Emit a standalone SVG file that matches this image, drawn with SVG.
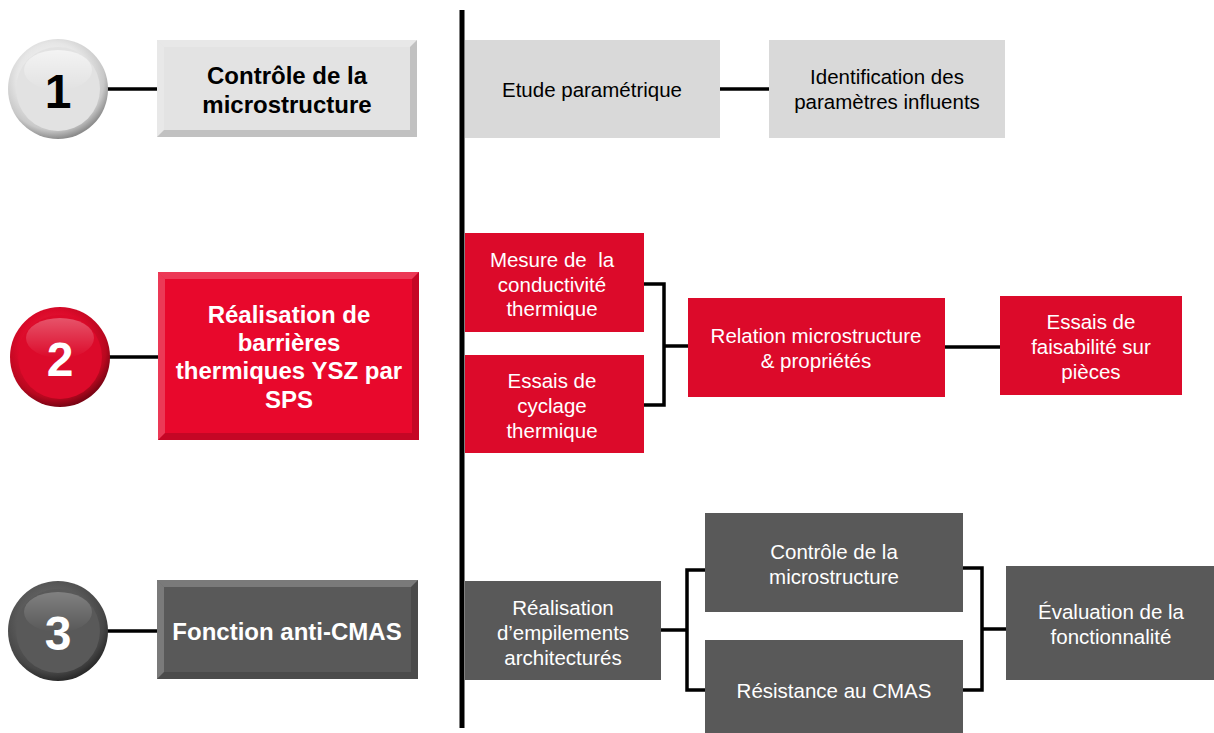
<svg xmlns="http://www.w3.org/2000/svg" width="1214" height="733" viewBox="0 0 1214 733">
<defs>
<radialGradient id="g1" cx="0.45" cy="0.4" r="0.6">
<stop offset="0" stop-color="#ffffff"/><stop offset="0.6" stop-color="#e6e6e6"/><stop offset="0.85" stop-color="#c8c8c8"/><stop offset="1" stop-color="#8c8c8c"/>
</radialGradient>
<radialGradient id="g2" cx="0.45" cy="0.4" r="0.6">
<stop offset="0" stop-color="#f0304a"/><stop offset="0.6" stop-color="#dc0a2a"/><stop offset="0.85" stop-color="#b8081f"/><stop offset="1" stop-color="#7a0414"/>
</radialGradient>
<radialGradient id="g3" cx="0.45" cy="0.4" r="0.6">
<stop offset="0" stop-color="#7a7a7a"/><stop offset="0.6" stop-color="#595959"/><stop offset="0.85" stop-color="#474747"/><stop offset="1" stop-color="#2a2a2a"/>
</radialGradient>
<linearGradient id="hl" x1="0" y1="0" x2="0" y2="1">
<stop offset="0" stop-color="#ffffff" stop-opacity="0.6"/><stop offset="1" stop-color="#ffffff" stop-opacity="0"/>
</linearGradient>
</defs>
<style>
.lbl{font-family:"Liberation Sans",Arial,sans-serif;font-size:20.5px;text-anchor:middle;dominant-baseline:central}
.big{font-family:"Liberation Sans",Arial,sans-serif;font-size:24px;font-weight:bold;text-anchor:middle;dominant-baseline:central}
.num{font-family:"Liberation Sans",Arial,sans-serif;font-size:48px;font-weight:bold;text-anchor:middle;dominant-baseline:central}
.w{fill:#ffffff}.k{fill:#000000}
.gray{fill:#d9d9d9}.red{fill:#dc0a2a}.dark{fill:#595959}
.conn{stroke:#000;stroke-width:3.5;fill:none}
.bevL{fill:#ffffff;fill-opacity:0.2}.bevD{fill:#000000;fill-opacity:0.15}
</style>

<g id="connectors">
<line x1="462" y1="10" x2="462" y2="728" stroke="#000" stroke-width="5"/>
<line class="conn" x1="106" y1="89" x2="157" y2="89"/>
<line class="conn" x1="108" y1="357" x2="158" y2="357"/>
<line class="conn" x1="106" y1="631" x2="157" y2="631"/>
<line class="conn" x1="720" y1="89" x2="769" y2="89"/>
<polyline class="conn" points="644,284 664,284 664,405 644,405"/>
<line class="conn" x1="664" y1="346" x2="688" y2="346"/>
<line class="conn" x1="945" y1="347" x2="1000" y2="347"/>
<line class="conn" x1="661" y1="630" x2="687" y2="630"/>
<polyline class="conn" points="705,570 687,570 687,690 705,690"/>
<polyline class="conn" points="963,568 982,568 982,690 963,690"/>
<line class="conn" x1="982" y1="629" x2="1006" y2="629"/>
</g>

<g id="c1">
<circle cx="58" cy="89" r="50" fill="url(#g1)"/>
<circle cx="58" cy="89" r="42" fill="#e2e2e2"/>
<ellipse cx="58" cy="70" rx="34" ry="20" fill="url(#hl)"/>
<text class="num k" x="58" y="91">1</text>
</g>
<g id="b1">
<rect x="157" y="40" width="260" height="97" fill="#e3e3e3"/>
<polygon class="bevL" points="157,40 417,40 410,47 164,47"/>
<polygon class="bevL" points="157,40 164,47 164,130 157,137"/>
<polygon class="bevD" points="157,137 417,137 410,130 164,130"/>
<polygon class="bevD" points="417,40 417,137 410,130 410,47"/>
<text class="big k" x="287" y="75">Contrôle de la</text>
<text class="big k" x="287" y="104">microstructure</text>
</g>

<g id="c2">
<circle cx="60" cy="357" r="50" fill="url(#g2)"/>
<circle cx="60" cy="357" r="42" fill="#dc0a2a"/>
<ellipse cx="60" cy="338" rx="34" ry="20" fill="url(#hl)" opacity="0.5"/>
<text class="num w" x="60" y="359">2</text>
</g>
<g id="b2">
<rect x="158" y="272" width="261" height="168" fill="#e8082c"/>
<polygon class="bevL" points="158,272 419,272 412,279 165,279"/>
<polygon class="bevL" points="158,272 165,279 165,433 158,440"/>
<polygon class="bevD" points="158,440 419,440 412,433 165,433"/>
<polygon class="bevD" points="419,272 419,440 412,433 412,279"/>
<text class="big w" x="289" y="314">Réalisation de</text>
<text class="big w" x="289" y="342">barrières</text>
<text class="big w" x="289" y="370">thermiques YSZ par</text>
<text class="big w" x="289" y="399">SPS</text>
</g>

<g id="c3">
<circle cx="58" cy="631" r="50" fill="url(#g3)"/>
<circle cx="58" cy="631" r="42" fill="#595959"/>
<ellipse cx="58" cy="612" rx="34" ry="20" fill="url(#hl)" opacity="0.4"/>
<text class="num w" x="58" y="633">3</text>
</g>
<g id="b3">
<rect x="157" y="580" width="261" height="99" fill="#595959"/>
<polygon class="bevL" points="157,580 418,580 411,587 164,587"/>
<polygon class="bevL" points="157,580 164,587 164,672 157,679"/>
<polygon class="bevD" points="157,679 418,679 411,672 164,672"/>
<polygon class="bevD" points="418,580 418,679 411,672 411,587"/>
<text class="big w" x="287" y="631">Fonction anti-CMAS</text>
</g>

<g id="n-etude">
<rect class="gray" x="465" y="40" width="255" height="98"/>
<text class="lbl k" x="592" y="89">Etude paramétrique</text>
</g>
<g id="n-ident">
<rect class="gray" x="769" y="40" width="236" height="98"/>
<text class="lbl k" x="887" y="76">Identification des</text>
<text class="lbl k" x="887" y="101">paramètres influents</text>
</g>

<g id="n-mesure">
<rect class="red" x="465" y="233" width="179" height="99"/>
<text class="lbl w" x="552" y="259" xml:space="preserve">Mesure de  la</text>
<text class="lbl w" x="552" y="284">conductivité</text>
<text class="lbl w" x="552" y="308">thermique</text>
</g>
<g id="n-cyclage">
<rect class="red" x="465" y="355" width="179" height="98"/>
<text class="lbl w" x="552" y="380">Essais de</text>
<text class="lbl w" x="552" y="405">cyclage</text>
<text class="lbl w" x="552" y="430">thermique</text>
</g>
<g id="n-relation">
<rect class="red" x="688" y="298" width="257" height="99"/>
<text class="lbl w" x="816" y="335">Relation microstructure</text>
<text class="lbl w" x="816" y="360">&amp; propriétés</text>
</g>
<g id="n-faisab">
<rect class="red" x="1000" y="296" width="182" height="99"/>
<text class="lbl w" x="1091" y="321">Essais de</text>
<text class="lbl w" x="1091" y="346">faisabilité sur</text>
<text class="lbl w" x="1091" y="371">pièces</text>
</g>

<g id="n-empil">
<rect class="dark" x="465" y="581" width="196" height="99"/>
<text class="lbl w" x="563" y="607">Réalisation</text>
<text class="lbl w" x="563" y="632">d’empilements</text>
<text class="lbl w" x="563" y="657">architecturés</text>
</g>
<g id="n-controle">
<rect class="dark" x="705" y="513" width="258" height="99"/>
<text class="lbl w" x="834" y="551">Contrôle de la</text>
<text class="lbl w" x="834" y="576">microstructure</text>
</g>
<g id="n-resist">
<rect class="dark" x="705" y="640" width="258" height="95"/>
<text class="lbl w" x="834" y="690">Résistance au CMAS</text>
</g>
<g id="n-eval">
<rect class="dark" x="1006" y="566" width="208" height="114"/>
<text class="lbl w" x="1111" y="611">Évaluation de la</text>
<text class="lbl w" x="1111" y="636">fonctionnalité</text>
</g>
</svg>
